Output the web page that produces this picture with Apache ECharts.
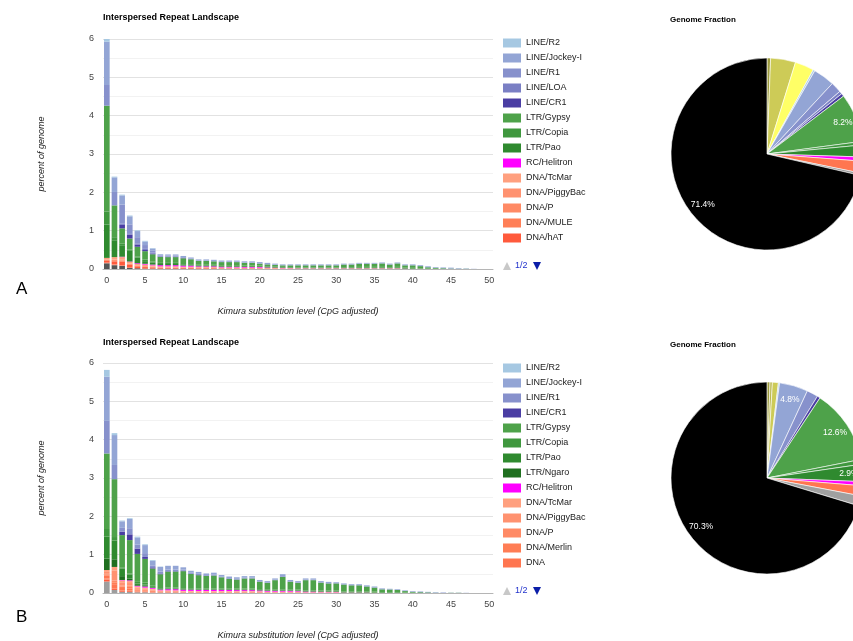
<!DOCTYPE html>
<html><head><meta charset="utf-8">
<script src="https://cdn.jsdelivr.net/npm/echarts@6/dist/echarts.min.js"></script>
<style>html,body{margin:0;padding:0;background:#fff}#c{width:853px;height:641px}</style>
</head><body><div id="c"></div>
<script>
// ---------- categories / ticks ----------
const kimuraBins = ['0','1','2','3','4','5','6','7','8','9','10','11','12','13','14','15','16','17','18','19','20','21','22','23','24','25','26','27','28','29','30','31','32','33','34','35','36','37','38','39','40','41','42','43','44','45','46','47','48','49','50'];
const yTicks = [0,1,2,3,4,5,6];

// ---------- Panel A (percent of genome per Kimura bin) ----------
const a_unknown  = [0.15,0.10,0.08,0.03,0.02,0.01,0.01,0.01,0.01,0.01, 0.01,0.01,0.005,0.005,0.005,0.005,0.005,0.005,0.005,0.005, 0.005,0,0,0,0,0,0,0,0,0, 0,0,0,0,0,0,0,0,0,0, 0,0,0,0,0,0,0,0,0,0, 0];
const a_maverick = [0.01,0.01,0.005,0.005,0,0,0,0,0,0, 0,0,0,0,0,0,0,0,0,0, 0,0,0,0,0,0,0,0,0,0, 0,0,0,0,0,0,0,0,0,0, 0,0,0,0,0,0,0,0,0,0, 0];
const a_cmc      = [0.005,0.01,0.005,0,0,0,0,0,0,0, 0,0,0,0,0,0,0,0,0,0, 0,0,0,0,0,0,0,0,0,0, 0,0,0,0,0,0,0,0,0,0, 0,0,0,0,0,0,0,0,0,0, 0];
const a_hat      = [0.05,0.08,0.10,0.08,0.05,0.04,0.03,0.02,0.02,0.02, 0.02,0.02,0.015,0.015,0.015,0.01,0.01,0.01,0.01,0.01, 0.01,0.01,0.01,0.005,0.005,0.005,0.005,0.005,0.005,0.005, 0.005,0.005,0.005,0.005,0.005,0.005,0.005,0.005,0.005,0, 0,0,0,0,0,0,0,0,0,0, 0];
const a_mule     = [0.02,0.03,0.03,0.02,0.02,0.02,0.02,0.01,0.01,0.01, 0.01,0.01,0.01,0.01,0.01,0.005,0.005,0.005,0.005,0.005, 0.005,0.005,0.005,0.005,0.005,0,0,0,0,0, 0,0,0,0,0,0,0,0,0,0, 0,0,0,0,0,0,0,0,0,0, 0];
const a_p        = [0.005,0.01,0.01,0.005,0.005,0,0,0,0,0, 0,0,0,0,0,0,0,0,0,0, 0,0,0,0,0,0,0,0,0,0, 0,0,0,0,0,0,0,0,0,0, 0,0,0,0,0,0,0,0,0,0, 0];
const a_piggybac = [0.01,0.01,0.01,0.005,0.005,0.005,0.005,0,0,0, 0,0,0,0,0,0,0,0,0,0, 0,0,0,0,0,0,0,0,0,0, 0,0,0,0,0,0,0,0,0,0, 0,0,0,0,0,0,0,0,0,0, 0];
const a_tcmar    = [0.04,0.06,0.07,0.04,0.03,0.04,0.03,0.03,0.03,0.03, 0.02,0.02,0.02,0.02,0.02,0.02,0.02,0.02,0.015,0.015, 0.015,0.01,0.01,0.01,0.01,0.01,0.01,0.01,0.01,0.01, 0.01,0.01,0.01,0.01,0.01,0.01,0.01,0.01,0.01,0.005, 0.005,0.005,0,0,0,0,0,0,0,0, 0];
const a_helitron = [0,0,0.01,0.01,0.02,0.02,0.02,0.03,0.03,0.03, 0.03,0.03,0.02,0.02,0.02,0.02,0.02,0.02,0.02,0.02, 0.02,0.015,0.01,0.01,0.005,0.005,0.005,0.005,0.005,0.005, 0.005,0.005,0.005,0.005,0.005,0.005,0.005,0.005,0.005,0.005, 0,0,0,0,0,0,0,0,0,0, 0];
const a_pao      = [0.87,0.44,0.30,0.28,0.15,0.07,0.05,0.03,0.03,0.03, 0.02,0.02,0.02,0.02,0.02,0.02,0.02,0.02,0.02,0.02, 0.02,0.02,0.015,0.015,0.015,0.015,0.015,0.015,0.015,0.015, 0.015,0.02,0.02,0.02,0.02,0.02,0.02,0.02,0.02,0.015, 0.015,0.01,0.01,0.005,0.005,0,0,0,0,0, 0];
const a_copia    = [0.34,0.08,0.05,0.03,0.03,0.04,0.03,0.03,0.03,0.03, 0.02,0.02,0.02,0.02,0.02,0.02,0.02,0.02,0.015,0.015, 0.015,0.015,0.01,0.01,0.01,0.01,0.01,0.01,0.01,0.01, 0.01,0.01,0.01,0.015,0.015,0.015,0.015,0.01,0.015,0.01, 0.01,0.01,0.005,0.005,0,0,0,0,0,0, 0];
const a_gypsy    = [2.76,0.83,0.39,0.29,0.25,0.22,0.19,0.155,0.15,0.15, 0.15,0.125,0.10,0.10,0.09,0.08,0.08,0.08,0.07,0.07, 0.05,0.045,0.045,0.04,0.045,0.05,0.05,0.05,0.05,0.05, 0.05,0.065,0.065,0.08,0.08,0.08,0.09,0.065,0.09,0.06, 0.065,0.05,0.03,0.02,0.015,0.01,0.005,0.005,0,0, 0];
const a_cr1      = [0,0,0.09,0.10,0.06,0.03,0.02,0.01,0.01,0.01, 0.005,0,0,0,0,0,0,0,0,0, 0,0,0,0,0,0,0,0,0,0, 0,0,0,0,0,0,0,0,0,0, 0,0,0,0,0,0,0,0,0,0, 0];
const a_loa      = [0,0,0.03,0.02,0.03,0.03,0.02,0.01,0.01,0.01, 0.005,0,0,0,0,0,0,0,0,0, 0,0,0,0,0,0,0,0,0,0, 0,0,0,0,0,0,0,0,0,0, 0,0,0,0,0,0,0,0,0,0, 0];
const a_r1       = [0.54,0.35,0.50,0.25,0.16,0.10,0.05,0.02,0.02,0.02, 0.02,0.015,0.01,0.01,0.01,0.01,0.01,0.01,0.01,0.01, 0.01,0.01,0.01,0.005,0.005,0.005,0.005,0.005,0.005,0.005, 0.005,0.005,0.005,0.005,0.005,0.005,0.005,0.005,0.005,0.005, 0.005,0.005,0.005,0.005,0.005,0.005,0,0,0,0, 0];
const a_jockey   = [1.13,0.38,0.24,0.21,0.16,0.09,0.06,0.03,0.03,0.03, 0.03,0.03,0.03,0.03,0.03,0.03,0.03,0.03,0.03,0.03, 0.03,0.03,0.025,0.02,0.02,0.02,0.02,0.02,0.02,0.02, 0.02,0.02,0.02,0.02,0.02,0.02,0.02,0.02,0.02,0.02, 0.02,0.02,0.02,0.015,0.015,0.02,0.015,0.01,0.005,0, 0];
const a_r2       = [0.10,0.02,0.02,0.02,0.02,0.02,0.01,0.005,0,0, 0,0,0,0,0,0,0,0,0,0, 0,0,0,0,0,0,0,0,0,0, 0,0,0,0,0,0,0,0,0,0, 0,0,0,0,0,0,0,0,0,0, 0];

// ---------- Panel B ----------
const b_unknown  = [0.30,0.08,0.03,0.03,0.02,0.02,0.01,0.01,0.01,0.01, 0.01,0.01,0.005,0.005,0.005,0.005,0.005,0.005,0.005,0.005, 0.005,0.005,0.005,0.005,0.005,0.005,0,0,0,0, 0,0,0,0,0,0,0,0,0,0, 0,0,0,0,0,0,0,0,0,0, 0];
const b_hat      = [0.05,0.03,0.02,0.02,0.01,0.01,0.01,0.01,0.01,0.01, 0.005,0.005,0.005,0.005,0.005,0.005,0.005,0.005,0.005,0.005, 0.005,0.005,0.005,0.005,0.005,0.005,0,0,0,0, 0,0,0,0,0,0,0,0,0,0, 0,0,0,0,0,0,0,0,0,0, 0];
const b_mule     = [0.03,0.02,0.02,0.02,0.01,0.01,0.01,0.005,0.005,0.005, 0.005,0.005,0.005,0.005,0.005,0.005,0.005,0.005,0.005,0.005, 0.005,0,0,0,0,0,0,0,0,0, 0,0,0,0,0,0,0,0,0,0, 0,0,0,0,0,0,0,0,0,0, 0];
const b_dna      = [0.08,0.10,0.06,0.05,0.03,0.02,0.02,0.01,0.01,0.01, 0.01,0.01,0.01,0.01,0.01,0.01,0.01,0.01,0.01,0.01, 0.005,0.005,0.005,0.005,0.005,0.005,0.005,0.005,0.005,0.005, 0.005,0,0,0,0,0,0,0,0,0, 0,0,0,0,0,0,0,0,0,0, 0];
const b_merlin   = [0.02,0.05,0.04,0.04,0.02,0.02,0.01,0.01,0.01,0.01, 0.005,0.005,0.005,0.005,0.005,0.005,0.005,0.005,0.005,0.005, 0.005,0.005,0.005,0.005,0.005,0.005,0.005,0.005,0.005,0.005, 0.005,0,0,0,0,0,0,0,0,0, 0,0,0,0,0,0,0,0,0,0, 0];
const b_p        = [0.02,0.05,0.03,0.03,0.02,0.01,0.01,0.005,0.005,0.005, 0.005,0.005,0.005,0.005,0.005,0.005,0.005,0.005,0.005,0.005, 0.005,0,0,0,0,0,0,0,0,0, 0,0,0,0,0,0,0,0,0,0, 0,0,0,0,0,0,0,0,0,0, 0];
const b_piggybac = [0.05,0.25,0.08,0.07,0.03,0.03,0.02,0.01,0.01,0.01, 0.005,0.005,0.005,0.005,0.005,0.005,0.005,0.005,0.005,0.005, 0.005,0.005,0.005,0.005,0.005,0.005,0.005,0.005,0.005,0.005, 0.005,0,0,0,0,0,0,0,0,0, 0,0,0,0,0,0,0,0,0,0, 0];
const b_tcmar    = [0.05,0.10,0.05,0.05,0.03,0.02,0.02,0.01,0.01,0.01, 0.01,0.01,0.01,0.01,0.01,0.01,0.01,0.01,0.01,0.01, 0.01,0.01,0.01,0.01,0.01,0.01,0.005,0.005,0.005,0.005, 0.005,0.005,0.005,0.005,0.005,0.005,0,0,0,0, 0,0,0,0,0,0,0,0,0,0, 0];
const b_helitron = [0,0,0.01,0.02,0.02,0.03,0.02,0.02,0.03,0.03, 0.03,0.03,0.03,0.03,0.03,0.03,0.03,0.025,0.025,0.025, 0.02,0.02,0.02,0.02,0.02,0.015,0.015,0.015,0.01,0.01, 0.01,0.005,0.005,0.005,0.005,0,0,0,0,0, 0,0,0,0,0,0,0,0,0,0, 0];
const b_ngaro    = [0.30,0.20,0.10,0.05,0.02,0.02,0.01,0.01,0.01,0.01, 0.01,0.01,0.01,0.01,0.01,0.01,0.01,0.01,0.01,0.01, 0.01,0.01,0.01,0.01,0.01,0.01,0.01,0.01,0.01,0.01, 0.01,0.005,0.005,0.005,0.005,0.005,0.005,0.005,0.005,0, 0,0,0,0,0,0,0,0,0,0, 0];
const b_pao      = [0.57,0.49,0.20,0.10,0.04,0.03,0.02,0.01,0.01,0.01, 0.01,0.01,0.01,0.01,0.01,0.01,0.01,0.01,0.01,0.01, 0.01,0.01,0.01,0.01,0.01,0.01,0.01,0.01,0.01,0.01, 0.01,0.01,0.01,0.01,0.01,0.01,0.01,0.01,0.01,0.005, 0.005,0,0,0,0,0,0,0,0,0, 0];
const b_copia    = [0.20,0.09,0.03,0.03,0.04,0.05,0.03,0.02,0.02,0.02, 0.02,0.02,0.02,0.02,0.02,0.02,0.02,0.02,0.02,0.02, 0.02,0.02,0.02,0.02,0.02,0.02,0.015,0.015,0.015,0.015, 0.015,0.015,0.015,0.015,0.015,0.015,0.01,0.01,0.01,0.01, 0.01,0,0,0,0,0,0,0,0,0, 0];
const b_gypsy    = [1.97,1.51,0.84,0.87,0.73,0.62,0.45,0.36,0.42,0.42, 0.445,0.37,0.345,0.325,0.335,0.29,0.25,0.235,0.265,0.265, 0.19,0.17,0.24,0.325,0.20,0.175,0.265,0.265,0.205,0.185, 0.185,0.18,0.16,0.16,0.13,0.105,0.07,0.065,0.055,0.035, 0.015,0.02,0.015,0.005,0,0.005,0.005,0,0,0, 0];
const b_cr1      = [0,0,0.09,0.15,0.14,0.05,0.03,0.02,0.01,0.01, 0.01,0.005,0.005,0.005,0.005,0,0,0,0,0, 0,0,0,0,0,0,0,0,0,0, 0,0,0,0,0,0,0,0,0,0, 0,0,0,0,0,0,0,0,0,0, 0];
const b_r1       = [0.85,0.37,0.10,0.16,0.10,0.10,0.05,0.05,0.04,0.04, 0.03,0.03,0.03,0.02,0.02,0.02,0.02,0.02,0.02,0.02, 0.015,0.015,0.015,0.02,0.015,0.015,0.015,0.015,0.01,0.01, 0.01,0.01,0.01,0.01,0.01,0.01,0.005,0.005,0.005,0.005, 0.005,0.005,0.005,0.005,0.005,0,0,0,0,0, 0];
const b_jockey   = [1.15,0.78,0.17,0.24,0.19,0.21,0.12,0.12,0.10,0.10, 0.06,0.05,0.05,0.04,0.05,0.04,0.04,0.04,0.04,0.04, 0.03,0.03,0.03,0.05,0.03,0.03,0.03,0.03,0.03,0.03, 0.02,0.02,0.02,0.02,0.02,0.02,0.02,0.015,0.015,0.015, 0.015,0.015,0.01,0.01,0.01,0.005,0.005,0.005,0,0, 0];
const b_r2       = [0.18,0.05,0.02,0.02,0.02,0.02,0.02,0.01,0,0, 0,0,0,0,0,0,0,0,0,0, 0,0,0,0,0,0,0,0,0,0, 0,0,0,0,0,0,0,0,0,0, 0,0,0,0,0,0,0,0,0,0, 0];

// ---------- Genome fraction (%) ----------
const pieA_names  = ['Other','Unclassified','Simple repeat','LINE/R2','LINE/Jockey-I','LINE/R1','LINE/LOA','LINE/CR1','LTR/Gypsy','LTR/Copia','LTR/Pao','RC/Helitron','DNA','Unknown','Non-Repeat'];
const pieA_values = [0.6,4.2,3.2,0.3,3.6,1.8,0.5,0.5,8.2,0.6,2.0,0.7,2.0,0.4,71.4];
const pieA_labelled = ['LTR/Gypsy','Non-Repeat'];
const pieB_names  = ['Other','Satellite','Unclassified','LINE/R2','LINE/Jockey-I','LINE/R1','LINE/CR1','LTR/Gypsy','LTR/Copia','LTR/Pao','RC/Helitron','DNA','Unknown','Non-Repeat'];
const pieB_values = [0.5,0.4,1.0,0.2,4.8,1.9,0.5,12.6,0.8,2.9,0.7,1.7,1.7,70.3];
const pieB_labelled = ['LINE/Jockey-I','LTR/Gypsy','LTR/Pao','Non-Repeat'];

// ---------- styles ----------
const COLORS = {
  'LINE/R2':'#a6c8e2','LINE/Jockey-I':'#93a5d5','LINE/R1':'#8791cc','LINE/LOA':'#7a7fc4','LINE/CR1':'#4a3da3',
  'LTR/Gypsy':'#4ea24a','LTR/Copia':'#3f973e','LTR/Pao':'#2f8a2f','LTR/Ngaro':'#1f6f1f','RC/Helitron':'#ff00ff',
  'DNA/TcMar':'#ffa07f','DNA/PiggyBac':'#ff9270','DNA/P':'#ff8a65','DNA/MULE':'#ff7f57','DNA/hAT':'#ff5a3c',
  'DNA/Merlin':'#ff7d55','DNA':'#ff7650','DNA/CMC':'#ff6a48','DNA/Maverick':'#ff9a7a',
  'Other':'#9c9a3c','Satellite':'#b9b64c','Unclassified':'#cdcb57','Simple repeat':'#ffff66','Non-Repeat':'#000000'
};
const UNKNOWN_A = '#555555', UNKNOWN_B = '#9e9e9e';

// stacking order bottom -> top
const seriesA = [
  ['Unknown',a_unknown],['DNA/Maverick',a_maverick],['DNA/CMC',a_cmc],['DNA/hAT',a_hat],['DNA/MULE',a_mule],
  ['DNA/P',a_p],['DNA/PiggyBac',a_piggybac],['DNA/TcMar',a_tcmar],['RC/Helitron',a_helitron],['LTR/Pao',a_pao],
  ['LTR/Copia',a_copia],['LTR/Gypsy',a_gypsy],['LINE/CR1',a_cr1],['LINE/LOA',a_loa],['LINE/R1',a_r1],
  ['LINE/Jockey-I',a_jockey],['LINE/R2',a_r2]
];
const seriesB = [
  ['Unknown',b_unknown],['DNA/hAT',b_hat],['DNA/MULE',b_mule],['DNA',b_dna],['DNA/Merlin',b_merlin],
  ['DNA/P',b_p],['DNA/PiggyBac',b_piggybac],['DNA/TcMar',b_tcmar],['RC/Helitron',b_helitron],['LTR/Ngaro',b_ngaro],
  ['LTR/Pao',b_pao],['LTR/Copia',b_copia],['LTR/Gypsy',b_gypsy],['LINE/CR1',b_cr1],['LINE/R1',b_r1],
  ['LINE/Jockey-I',b_jockey],['LINE/R2',b_r2]
];
const legendA = ['LINE/R2','LINE/Jockey-I','LINE/R1','LINE/LOA','LINE/CR1','LTR/Gypsy','LTR/Copia','LTR/Pao','RC/Helitron','DNA/TcMar','DNA/PiggyBac','DNA/P','DNA/MULE','DNA/hAT'];
const legendB = ['LINE/R2','LINE/Jockey-I','LINE/R1','LINE/CR1','LTR/Gypsy','LTR/Copia','LTR/Pao','LTR/Ngaro','RC/Helitron','DNA/TcMar','DNA/PiggyBac','DNA/P','DNA/Merlin','DNA'];

const FONT = 'Liberation Sans, Arial, sans-serif';
const DY = 324; // vertical offset of panel B

function bars(list, idx, unknownColor) {
  return list.map(([name, data]) => ({
    name, type:'bar', stack:'s'+idx, xAxisIndex:idx, yAxisIndex:idx,
    barCategoryGap:'26%',
    itemStyle:{color: name==='Unknown' ? unknownColor : COLORS[name]},
    emphasis:{disabled:true},
    data: data.map(v => v === 0 ? '-' : v)
  }));
}
function pieData(names, values, unknownColor) {
  return names.map((n,i) => ({name:n, value:values[i], itemStyle:{color: n==='Unknown' ? unknownColor : COLORS[n]}}));
}
function pies(names, values, labelled, cy, unknownColor) {
  const base = {type:'pie', center:[767,cy], startAngle:90, clockwise:true, percentPrecision:1,
    animation:false, emphasis:{disabled:true}, avoidLabelOverlap:false, labelLine:{show:false}};
  return [
    Object.assign({}, base, {name:'pie'+cy, radius:[0,96], data:pieData(names, values, unknownColor),
      itemStyle:{borderColor:'#fff', borderWidth:0.6}, label:{show:false}}),
    Object.assign({}, base, {name:'pielabels'+cy, radius:[62,96], silent:true,
      data: names.map((n,i)=>({name:n, value:values[i], itemStyle:{color:'rgba(0,0,0,0)'},
        label:{show: labelled.indexOf(n) >= 0}})),
      label:{position:'inside', formatter:'{d}%', color:'#fff', fontSize:8.5, fontFamily:FONT, textBorderWidth:0}})
  ];
}

function xAx(i){ return {type:'category', gridIndex:i, data:kimuraBins,
  axisTick:{show:false}, axisLine:{lineStyle:{color:'#b5b5b5', width:1}},
  axisLabel:{interval:4, fontSize:9, color:'#444', margin:7, fontFamily:FONT},
  name:'Kimura substitution level (CpG adjusted)', nameLocation:'middle', nameGap:38,
  nameTextStyle:{fontStyle:'italic', fontSize:9, color:'#222', fontFamily:FONT}}; }
function yAx(i){ return {type:'value', gridIndex:i, min:yTicks[0], max:yTicks[yTicks.length-1], interval:1,
  axisLine:{show:false}, axisTick:{show:false},
  axisLabel:{fontSize:9, color:'#444', margin:9, fontFamily:FONT},
  splitLine:{lineStyle:{color:'#e2e2e2'}},
  minorTick:{show:false, splitNumber:2}, minorSplitLine:{show:true, lineStyle:{color:'#f2f2f2'}},
  name:'percent of genome', nameLocation:'middle', nameRotate:90, nameGap:57,
  nameTextStyle:{fontStyle:'italic', fontSize:9, color:'#222', fontFamily:FONT}}; }

function legend(data, top){ return {data, orient:'vertical', left:503, top, padding:0,
  itemWidth:18, itemHeight:9, itemGap:6, icon:'rect', selectedMode:false,
  textStyle:{fontSize:9, color:'#222', fontFamily:FONT}}; }

function pager(y){ return [
  {type:'polygon', z:100, shape:{points:[[503,y+4],[511,y+4],[507,y-4]]}, style:{fill:'#c8c8c8'}},
  {type:'text', z:100, x:515, y:y-5, style:{text:'1/2', fill:'#2233cc', font:'9px '+FONT}},
  {type:'polygon', z:100, shape:{points:[[533,y-4],[541,y-4],[537,y+4]]}, style:{fill:'#0b1ea8'}}
]; }

const titleStyle = {fontSize:9, fontWeight:'bold', color:'#000', fontFamily:FONT};
const option = {
  animation:false,
  textStyle:{fontFamily:FONT},
  title:[
    {text:'Interspersed Repeat Landscape', left:103, top:13, padding:0, textStyle:titleStyle},
    {text:'Interspersed Repeat Landscape', left:103, top:13+DY+1, padding:0, textStyle:titleStyle},
    {text:'Genome Fraction', left:670, top:16, padding:0, textStyle:Object.assign({}, titleStyle, {fontSize:8})},
    {text:'Genome Fraction', left:670, top:16+DY+1, padding:0, textStyle:Object.assign({}, titleStyle, {fontSize:8})},
    {text:'A', left:16, top:281, padding:0, textStyle:{fontSize:17, fontWeight:'normal', color:'#000', fontFamily:FONT}},
    {text:'B', left:16, top:281+DY+4, padding:0, textStyle:{fontSize:17, fontWeight:'normal', color:'#000', fontFamily:FONT}}
  ],
  grid:[
    {left:103, top:39, width:390, height:230},
    {left:103, top:39+DY, width:390, height:230}
  ],
  xAxis:[xAx(0), xAx(1)],
  yAxis:[yAx(0), yAx(1)],
  legend:[legend(legendA, 38.5), legend(legendB, 38.5+DY+1)],
  graphic:[].concat(pager(266), pager(266+DY+1)),
  series:[].concat(
    bars(seriesA, 0, UNKNOWN_A),
    bars(seriesB, 1, UNKNOWN_B),
    pies(pieA_names, pieA_values, pieA_labelled, 154, '#999999'),
    pies(pieB_names, pieB_values, pieB_labelled, 478, '#a0a0a0')
  )
};
const chart = echarts.init(document.getElementById('c'), null, {renderer:'canvas'});
chart.setOption(option);
</script>
</body></html>
